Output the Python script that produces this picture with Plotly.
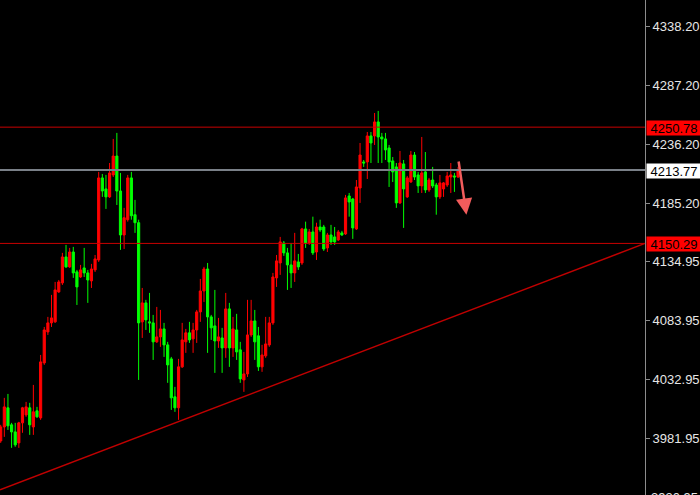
import plotly.graph_objects as go

# OHLC values (one entry per bar)
opens = [3979.6, 3991.7, 4008.2, 3993.5, 3987.4, 3977.9, 3995.2, 4002.1, 4008.2, 3991.7,
         4005.6, 3999.5, 4047.0, 4073.8, 4081.6, 4082.5, 4108.4, 4116.2, 4138.6, 4130.0,
         4142.9, 4125.7, 4121.3, 4129.1, 4124.8, 4117.9, 4127.4, 4136.0, 4206.9, 4197.4,
         4190.5, 4209.5, 4225.8, 4195.6, 4157.6, 4170.8, 4206.9, 4175.1, 4168.2, 4082.5,
         4098.9, 4082.5, 4081.6, 4065.2, 4069.5, 4076.4, 4062.6, 4050.5, 4017.7, 4008.2,
         4043.6, 4065.2, 4073.0, 4067.8, 4075.5, 4091.1, 4109.2, 4128.2, 4086.8, 4079.0,
         4066.0, 4068.6, 4060.0, 4093.7, 4060.0, 4075.5, 4058.3, 4032.3, 4037.5, 4071.2,
         4083.3, 4070.4, 4043.6, 4053.1, 4062.6, 4081.6, 4120.5, 4133.4, 4150.7, 4142.1,
         4131.7, 4124.8, 4134.3, 4133.4, 4162.8, 4150.7, 4160.2, 4142.9, 4164.5, 4164.5,
         4146.4, 4157.6, 4155.9, 4153.3, 4159.4, 4158.5, 4191.3, 4188.7, 4162.8, 4198.2,
         4220.7, 4220.7, 4243.2, 4243.2, 4255.3, 4242.3, 4240.6, 4232.8, 4221.6, 4216.4,
         4185.3, 4219.0, 4190.5, 4203.4, 4226.7, 4209.5, 4200.0, 4212.1, 4196.5, 4205.1,
         4200.8, 4190.5, 4197.4, 4200.8, 4207.7, 4208.6, 4207.7]
highs = [3993.5, 4016.8, 4020.2, 3995.2, 3995.2, 3996.1, 4009.0, 4013.3, 4012.5, 4028.0,
         4009.0, 4053.9, 4078.1, 4086.8, 4105.8, 4117.0, 4118.7, 4142.1, 4149.0, 4146.4,
         4147.3, 4127.4, 4131.7, 4146.4, 4127.4, 4132.6, 4140.3, 4212.1, 4210.3, 4209.5,
         4219.8, 4240.6, 4245.8, 4211.2, 4181.0, 4209.5, 4212.1, 4187.9, 4170.8, 4111.8,
         4101.5, 4107.5, 4088.5, 4095.4, 4092.8, 4081.6, 4065.2, 4052.2, 4026.3, 4050.5,
         4081.6, 4076.4, 4082.5, 4081.6, 4092.8, 4119.6, 4130.0, 4133.4, 4088.5, 4110.1,
         4085.9, 4077.3, 4107.5, 4098.9, 4086.8, 4089.4, 4065.2, 4056.5, 4101.5, 4101.5,
         4092.8, 4078.1, 4062.6, 4086.8, 4086.8, 4124.8, 4140.3, 4155.9, 4152.4, 4146.4,
         4150.7, 4159.4, 4141.2, 4163.7, 4169.1, 4162.8, 4173.4, 4168.2, 4170.8, 4166.3,
         4159.4, 4166.3, 4164.5, 4161.9, 4161.1, 4192.2, 4193.9, 4189.6, 4205.1, 4237.1,
         4222.4, 4246.6, 4246.6, 4263.0, 4264.8, 4245.8, 4245.8, 4235.4, 4225.0, 4219.8,
         4230.2, 4222.4, 4208.6, 4230.2, 4229.3, 4212.1, 4242.3, 4229.3, 4206.9, 4216.4,
         4202.6, 4209.5, 4203.4, 4212.1, 4219.8, 4211.2, 4216.4]
lows = [3977.9, 3983.1, 3989.1, 3973.6, 3974.5, 3973.6, 3986.6, 4000.4, 3984.8, 3984.8,
        3999.5, 3997.8, 4045.3, 4071.2, 4078.1, 4081.6, 4107.5, 4114.4, 4129.1, 4129.1,
        4120.5, 4097.1, 4120.5, 4121.3, 4098.9, 4111.8, 4125.6, 4134.3, 4190.5, 4180.1,
        4189.6, 4207.7, 4183.5, 4144.7, 4145.5, 4169.1, 4170.8, 4159.4, 4032.3, 4068.6,
        4075.5, 4073.0, 4049.6, 4064.3, 4060.9, 4052.2, 4029.8, 4006.4, 4004.7, 3997.8,
        4042.7, 4055.7, 4064.3, 4055.7, 4064.3, 4082.5, 4099.7, 4055.7, 4066.9, 4038.4,
        4060.0, 4038.4, 4051.4, 4043.6, 4052.2, 4049.6, 4029.8, 4022.0, 4034.9, 4069.5,
        4049.6, 4040.1, 4039.3, 4051.4, 4060.9, 4079.9, 4112.7, 4123.1, 4139.5, 4110.1,
        4111.8, 4117.0, 4127.4, 4131.7, 4146.4, 4149.0, 4140.3, 4136.0, 4160.2, 4143.8,
        4142.9, 4149.0, 4149.0, 4152.4, 4156.8, 4157.6, 4173.4, 4154.2, 4161.9, 4185.3,
        4216.4, 4206.0, 4219.8, 4235.4, 4219.8, 4219.8, 4222.4, 4199.1, 4203.4, 4181.0,
        4184.4, 4163.7, 4189.6, 4202.6, 4205.1, 4193.9, 4193.9, 4193.9, 4194.8, 4198.2,
        4175.1, 4188.7, 4190.5, 4199.1, 4193.9, 4194.8, 4206.9]
closes = [3991.7, 4009.0, 3992.6, 3987.4, 3976.2, 3995.2, 4008.2, 4009.0, 3993.5, 4004.7,
          4000.4, 4047.9, 4075.5, 4081.6, 4085.9, 4110.1, 4117.0, 4138.6, 4130.0, 4142.9,
          4124.8, 4112.7, 4127.4, 4124.8, 4118.7, 4128.2, 4136.9, 4206.9, 4195.6, 4190.5,
          4211.2, 4225.8, 4195.6, 4157.6, 4172.5, 4206.9, 4174.2, 4168.2, 4081.6, 4098.9,
          4084.2, 4081.6, 4065.2, 4069.5, 4076.4, 4062.6, 4045.3, 4016.8, 4008.2, 4043.6,
          4066.9, 4073.0, 4066.9, 4075.5, 4091.1, 4109.2, 4128.2, 4086.8, 4077.3, 4066.0,
          4069.5, 4060.0, 4093.7, 4060.0, 4076.4, 4056.5, 4033.2, 4037.5, 4071.2, 4083.3,
          4065.2, 4043.6, 4053.9, 4063.4, 4081.6, 4121.3, 4135.2, 4151.6, 4142.1, 4131.7,
          4124.8, 4135.2, 4130.0, 4162.8, 4150.7, 4160.2, 4142.1, 4164.5, 4161.9, 4145.5,
          4157.6, 4151.6, 4151.6, 4160.2, 4157.6, 4189.6, 4186.1, 4163.7, 4199.1, 4226.7,
          4219.8, 4243.2, 4237.1, 4255.3, 4242.3, 4240.6, 4231.1, 4220.7, 4212.1, 4185.3,
          4219.8, 4197.4, 4206.9, 4226.7, 4207.7, 4200.0, 4211.2, 4196.5, 4205.1, 4200.0,
          4190.5, 4202.6, 4202.6, 4208.6, 4209.5, 4207.7, 4213.77]
bars = list(range(len(opens)))

# price levels
resistance = 4250.78
current_price = 4213.77
support = 4150.29
trend_start = 3937.3          # trend line value at the left edge
trend_end = 4150.29           # trend line value at the right edge
arrow_from = 4222.4
arrow_to = 4175.1
tick_vals = [4338.20, 4287.20, 4236.20, 4185.20, 4134.95, 4083.95, 4032.95, 3981.95]
tick_text = ["%.2f" % v for v in tick_vals]
bottom_label = "3930.95"

RED = "#FF0000"
GREEN = "#00FF00"
FONT = "Liberation Sans"

fig = go.Figure(go.Candlestick(
    x=bars, open=opens, high=highs, low=lows, close=closes,
    increasing=dict(line=dict(color=RED, width=1), fillcolor=RED),
    decreasing=dict(line=dict(color=GREEN, width=1), fillcolor=GREEN),
    whiskerwidth=0, hoverinfo="skip", showlegend=False,
))

n = len(bars)
fig.update_layout(
    width=700, height=495,
    margin=dict(l=0, r=55, t=0, b=0),
    paper_bgcolor="#000000", plot_bgcolor="#000000",
    boxgap=0.15,
    xaxis=dict(range=[-0.19, 177.5], visible=False, rangeslider=dict(visible=False),
               showgrid=False, zeroline=False),
    yaxis=dict(range=[3932.85, 4360.67], side="right", showgrid=False, zeroline=False,
               showline=True, linecolor="#8C8C8C", linewidth=1,
               ticks="outside", ticklen=4, tickcolor="#8C8C8C",
               tickvals=tick_vals, ticktext=tick_text,
               tickfont=dict(family=FONT, size=13, color="#E6E6E6")),
    font=dict(family=FONT),
)

# horizontal levels and trend line
fig.add_shape(type="line", xref="paper", yref="y", x0=0, x1=1, y0=resistance, y1=resistance,
              line=dict(color="#C80000", width=1))
fig.add_shape(type="line", xref="paper", yref="y", x0=0, x1=1, y0=current_price, y1=current_price,
              line=dict(color="#7A8088", width=2))
fig.add_shape(type="line", xref="paper", yref="y", x0=0, x1=1, y0=support, y1=support,
              line=dict(color="#C80000", width=1))
fig.add_shape(type="line", xref="paper", yref="y", x0=0, x1=1, y0=trend_start, y1=trend_end,
              line=dict(color="#C00000", width=1.5))

# price tags on the axis
for val, bg in [(resistance, "#FF0000"), (current_price, "#FFFFFF"), (support, "#FF0000")]:
    fig.add_annotation(x=1, xref="paper", y=val, yref="y", xanchor="left", yanchor="middle",
                       xshift=1, yshift=-1, text="%.2f" % val, showarrow=False,
                       bgcolor=bg, font=dict(family=FONT, size=13, color="#000000"),
                       width=52, height=12, borderpad=1, align="center")

# partially visible bottom tick label
fig.add_annotation(x=1, xref="paper", y=0, yref="paper", xanchor="left", yanchor="middle",
                   xshift=4, yshift=-2, text=bottom_label, showarrow=False,
                   font=dict(family=FONT, size=13, color="#E6E6E6"))

# downward arrow
fig.add_annotation(x=n + 1.3, y=arrow_to, ax=n - 0.9, ay=arrow_from, xref="x", yref="y",
                   axref="x", ayref="y", text="", showarrow=True, arrowhead=2,
                   arrowsize=1.3, arrowwidth=2.5, arrowcolor="#F25C5C")

fig.write_html("out.html", config={"displayModeBar": False},
               post_script="document.body.style.margin='0';")
